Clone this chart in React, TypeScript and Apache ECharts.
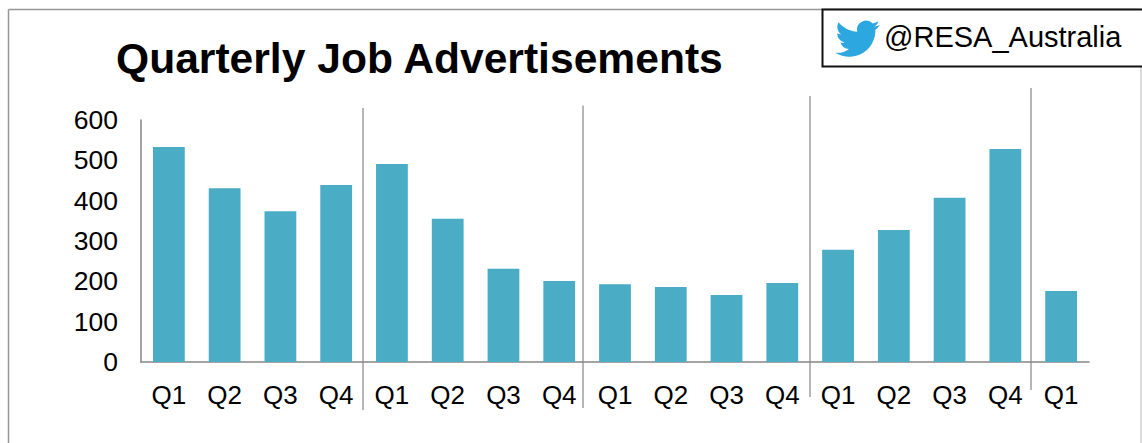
import React, { useEffect, useRef } from "react";
import * as echarts from "echarts";

const categories = ["Q1","Q2","Q3","Q4","Q1","Q2","Q3","Q4","Q1","Q2","Q3","Q4","Q1","Q2","Q3","Q4","Q1"];
const jobAds = [533,431,374,439,491,355,231,201,193,186,166,196,278,327,407,528,176];
const titleText = "Quarterly Job Advertisements";
const handleText = "@RESA_Australia";
const FONT = '"Liberation Sans", Arial, sans-serif';
const birdPath = "M23.953 4.57 a10 10 0 0 1 -2.825 .775 a4.958 4.958 0 0 0 2.163 -2.723 c-.951 .555 -2.005 .959 -3.127 1.184 a4.92 4.92 0 0 0 -8.384 4.482 C7.69 8.095 4.067 6.13 1.64 3.162 a4.822 4.822 0 0 0 -.666 2.475 c0 1.71 .87 3.213 2.188 4.096 a4.904 4.904 0 0 1 -2.228 -.616 v.06 a4.923 4.923 0 0 0 3.946 4.827 a4.996 4.996 0 0 1 -2.212 .085 a4.936 4.936 0 0 0 4.604 3.417 a9.867 9.867 0 0 1 -6.102 2.105 c-.39 0 -.779 -.023 -1.17 -.067 a13.995 13.995 0 0 0 7.557 2.209 c9.053 0 13.998 -7.496 13.998 -13.985 c0 -.21 0 -.42 -.015 -.63 A9.935 9.935 0 0 0 24 4.59 z";

echarts.graphic.registerShape("bird", echarts.graphic.extendPath(birdPath, {}));

const sep = (x: number, y1: number, y2: number) => ({
  type: "line", silent: true,
  shape: { x1: x, y1, x2: x, y2 },
  style: { stroke: "#8a8a8a", lineWidth: 1.25 },
});

export default function App() {
  const ref = useRef<HTMLDivElement>(null);
  useEffect(() => {
    const chart = echarts.init(ref.current!, null, { renderer: "svg" });
    chart.setOption({
      animation: false,
      backgroundColor: "#ffffff",
      grid: { left: 141, right: 53, top: 120, bottom: 81 },
      xAxis: {
        type: "category",
        data: categories,
        axisLine: { lineStyle: { color: "#868686", width: 1.5 } },
        axisTick: { show: false },
        axisLabel: { interval: 0, color: "#000", fontFamily: FONT, fontSize: 26, margin: 20 },
      },
      yAxis: {
        type: "value",
        min: 0,
        max: 600,
        interval: 100,
        splitLine: { show: false },
        axisLine: { show: true, lineStyle: { color: "#868686", width: 1.5 } },
        axisTick: { show: false },
        axisLabel: { color: "#000", fontFamily: FONT, fontSize: 26.5, margin: 23 },
      },
      series: [{
        type: "bar",
        data: jobAds,
        barWidth: "57%",
        itemStyle: { color: "#4BACC6" },
      }],
      graphic: [
        { type: "line", silent: true, shape: { x1: 8.5, y1: 9.5, x2: 1140.5, y2: 9.5 }, style: { stroke: "#969696", lineWidth: 1.5 } },
        { type: "line", silent: true, shape: { x1: 8.5, y1: 9.5, x2: 8.5, y2: 443 }, style: { stroke: "#969696", lineWidth: 1.5 } },
        { type: "line", silent: true, shape: { x1: 1141, y1: 9.5, x2: 1141, y2: 443 }, style: { stroke: "#d0d0d0", lineWidth: 1.5 } },
        sep(363, 108, 410),
        sep(583, 105.5, 408),
        sep(810, 96, 397),
        sep(1031, 88, 390),
        { type: "text", silent: true, x: 116, y: 36, style: { text: titleText, fill: "#000", font: `bold 42.6px ${FONT}` } },
        { type: "rect", silent: true, shape: { x: 822.5, y: 9.5, width: 322, height: 57 }, style: { fill: "#fff", stroke: "#111", lineWidth: 2 } },
        { type: "bird", silent: true, x: 835.5, y: 16.5, scaleX: 1.85, scaleY: 1.85, style: { fill: "#2CA7E0" } },
        { type: "text", silent: true, x: 884, y: 22, style: { text: handleText, fill: "#000", font: `29px ${FONT}` } },
      ],
    });
    return () => chart.dispose();
  }, []);
  return <div ref={ref} style={{ position: "fixed", left: 0, top: 0, width: 1142, height: 443 }} />;
}
